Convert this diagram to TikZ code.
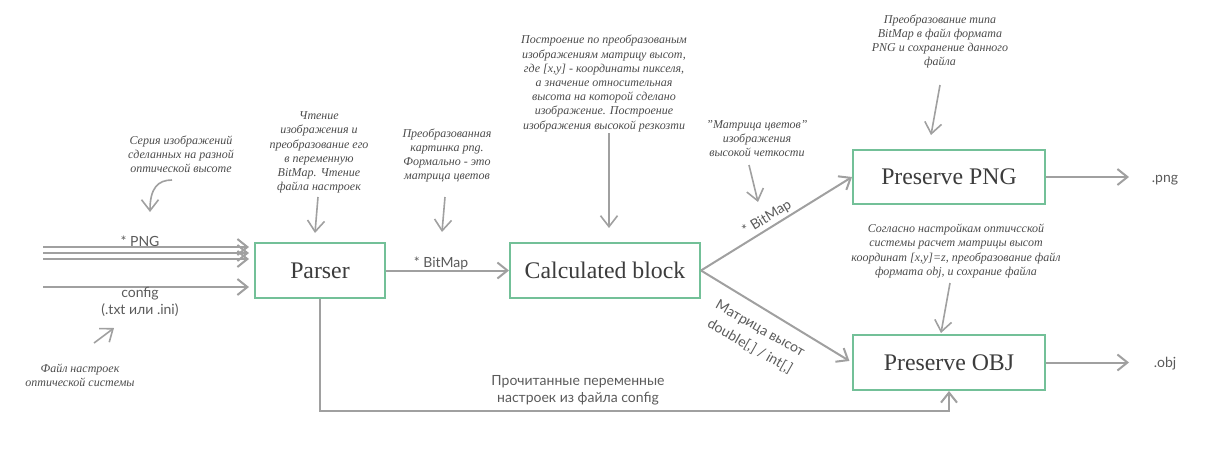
\documentclass[tikz,border=0pt]{standalone}
\usepackage{fontspec}
\setmainfont{Liberation Serif}
\newfontfamily\latofont{Lato}
\usetikzlibrary{arrows.meta}
\definecolor{boxgreen}{RGB}{115,192,152}
\definecolor{linegray}{RGB}{160,160,160}
\definecolor{txtgray}{RGB}{90,90,90}
\definecolor{txtdark}{RGB}{60,60,60}
\definecolor{notegray}{RGB}{75,75,75}
\newcommand\mynotefont{\itshape\fontsize{12}{14.2}\selectfont}
\begin{document}
\begin{tikzpicture}[x=1pt,y=-1pt,
  blockbox/.style={draw=boxgreen, line width=2pt, fill=white, font=\fontsize{23.8}{26}\selectfont, text=txtdark, inner sep=0pt},
  conn/.style={draw=linegray, line width=2pt, -{Straight Barb[length=10pt,width=16pt]}},
  noteconn/.style={draw=linegray, line width=1.6pt, -{Straight Barb[length=11pt,width=17pt]}},
  note/.style={font=\mynotefont, text=notegray, align=center, inner sep=0pt},
  elabel/.style={font=\latofont\fontsize{14}{17}\selectfont, text=txtgray, inner sep=0pt, align=center},
]
\useasboundingbox (0,0) rectangle (1224,469);

% blocks
\node[blockbox, minimum width=130pt, minimum height=55pt] (parser) at (320,270.5) {Parser};
\node[blockbox, minimum width=190pt, minimum height=55pt] (calc) at (605,270.5) {Calculated block};
\node[blockbox, minimum width=192pt, minimum height=54pt] (png) at (949,177) {Preserve PNG};
\node[blockbox, minimum width=192pt, minimum height=55pt] (obj) at (949,362.5) {Preserve OBJ};

% inputs
\coordinate (in1) at (43,247);
\coordinate (in2) at (43,253);
\coordinate (in3) at (43,259);
\coordinate (in4) at (43,287);
\draw[conn, shorten >=5pt] (in1) -- (in1 -| parser.west);
\draw[conn, shorten >=5pt] (in2) -- (in2 -| parser.west);
\draw[conn, shorten >=5pt] (in3) -- (in3 -| parser.west);
\draw[conn, shorten >=5pt] (in4) -- (in4 -| parser.west);
\node[elabel] (pnglab) at (140,241) {* PNG};
\node[elabel] (cfglab) at (140,301.5) {config\\(.txt или .ini)};

% main connectors
\draw[conn] (parser.east) -- (calc.west);
\node[elabel] (bm1) at (441,263) {* BitMap};
\draw[conn] (calc.east) -- (png.west);
\node[elabel, rotate=31.5] (bm2) at (767,218) {* BitMap};
\draw[conn, shorten >=3pt] (calc.east) -- (obj.west);
\node[elabel, rotate=-29.5, font=\latofont\fontsize{14}{20.5}\selectfont] (mlab) at (755,338) {Матрица высот\\double[,] / int[,]};
\draw[conn] (parser.south) -- ++(0,111.5) -| (obj.south);
\node[elabel] (cfgread) at (578,390.5) {Прочитанные переменные\\настроек из файла config};

% outputs
\coordinate (pngend) at (1129,177);
\coordinate (objend) at (1129,362.5);
\draw[conn] (png.east) -- (pngend);
\draw[conn] (obj.east) -- (objend);
\node[elabel, anchor=base] (pngout) at (1165,182) {.png};
\node[elabel, anchor=base] (objout) at (1165,367.5) {.obj};

% notes
\node[note] (n1) at (181,154) {Серия изображений\\сделанных на разной\\оптической высоте};
\coordinate (n1a) at (172,180);
\coordinate (n1b) at (150,212);
\draw[noteconn] (n1a) .. controls (158,180) and (150,188) .. (n1b);

\node[note] (n2) at (319,152.5) {Чтение\\изображения и\\преобразование его\\в переменную\\BitMap. Чтение\\файла настроек};
\coordinate (n2a) at (318,197);
\coordinate (n2b) at (315,233);
\draw[noteconn] (n2a) -- (n2b);

\node[note] (n3) at (447,155.5) {Преобразованная\\картинка png.\\Формально - это\\матрица цветов};
\coordinate (n3a) at (445,197);
\coordinate (n3b) at (442,232);
\draw[noteconn] (n3a) -- (n3b);

\node[note] (n4) at (604,83.5) {Построение по преобразованым\\изображениям матрицу высот,\\где [x,y] - координаты пикселя,\\а значение относительная\\высота на которой сделано\\изображение. Построение\\изображения высокой резкозти};
\coordinate (n4a) at (609,133);
\coordinate (n4b) at (609,228);
\draw[noteconn] (n4a) -- (n4b);

\node[note] (n5) at (757,138.5) {"Матрица цветов"\\изображения\\высокой четкости};
\coordinate (n5a) at (749,165);
\coordinate (n5b) at (758,202);
\draw[noteconn] (n5a) -- (n5b);

\node[note] (n6) at (940,41.5) {Преобразование типа\\BitMap в файл формата\\PNG и сохранение данного\\файла};
\coordinate (n6a) at (940,85);
\coordinate (n6b) at (931,135);
\draw[noteconn] (n6a) -- (n6b);

\node[note] (n7) at (956,251) {Согласно настройкам оптичсской\\системы расчет матрицы высот\\координат [x,y]=z, преобразование файл\\формата obj, и сохрание файла};
\coordinate (n7a) at (950,283);
\coordinate (n7b) at (941,333);
\draw[noteconn] (n7a) -- (n7b);

\node[note] (n8) at (80,375) {Файл настроек\\оптической системы};
\coordinate (n8a) at (94,343);
\coordinate (n8b) at (114,328);
\draw[noteconn] (n8a) -- (n8b);
\end{tikzpicture}
\end{document}
